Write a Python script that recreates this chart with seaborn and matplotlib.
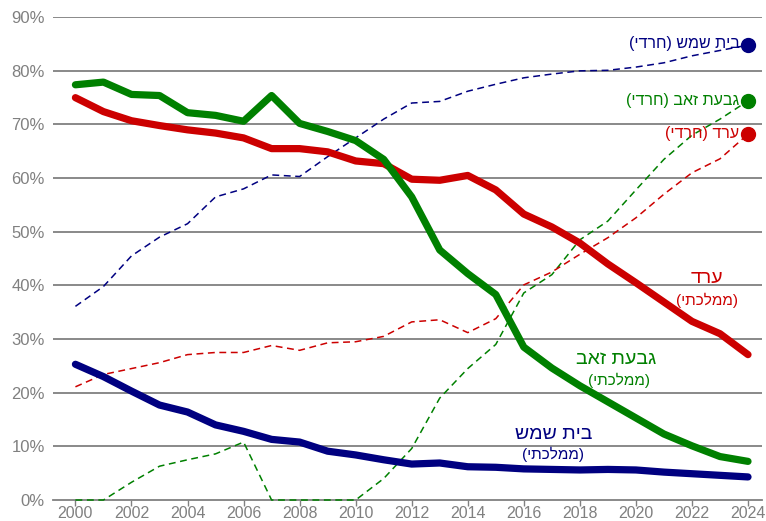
import numpy as np
import pandas as pd
import matplotlib
matplotlib.use("Agg")
import matplotlib.pyplot as plt
import seaborn as sns

years = list(range(2000, 2025))

arad_state = [75.0, 72.4, 70.7, 69.8, 69.0, 68.4, 67.5, 65.5, 65.5, 64.9, 63.2, 62.7,
              59.8, 59.6, 60.5, 57.8, 53.3, 50.9, 47.9, 44.0, 40.5, 36.9, 33.3, 31.0, 27.1]
gz_state = [77.4, 77.9, 75.6, 75.4, 72.2, 71.7, 70.6, 75.4, 70.2, 68.7, 67.0, 63.5,
            56.5, 46.6, 42.2, 38.3, 28.5, 24.6, 21.3, 18.3, 15.3, 12.3, 10.1, 8.1, 7.2]
bs_state = [25.3, 23.0, 20.3, 17.7, 16.4, 14.0, 12.8, 11.3, 10.8, 9.1, 8.4, 7.5,
            6.7, 6.9, 6.2, 6.1, 5.8, 5.7, 5.6, 5.7, 5.6, 5.2, 4.9, 4.6, 4.3]
arad_haredi = [21.1, 23.4, 24.5, 25.6, 27.1, 27.5, 27.5, 28.8, 27.9, 29.3, 29.5, 30.5,
               33.2, 33.6, 31.2, 33.8, 40.1, 42.5, 45.8, 48.9, 52.6, 57.0, 61.0, 63.6, 68.2]
gz_haredi = [0.0, 0.0, 3.3, 6.3, 7.5, 8.6, 10.8, 0.0, 0.0, 0.0, 0.0, 4.0,
             9.6, 19.0, 24.5, 29.0, 38.6, 42.0, 48.5, 52.0, 57.8, 63.5, 68.0, 71.0, 74.4]
bs_haredi = [36.1, 39.8, 45.5, 49.0, 51.5, 56.5, 58.0, 60.6, 60.3, 64.0, 67.5, 71.0,
             74.0, 74.3, 76.2, 77.5, 78.7, 79.4, 80.0, 80.1, 80.7, 81.5, 82.8, 83.8, 84.8]

yticks = [0, 10, 20, 30, 40, 50, 60, 70, 80, 90]
ytick_labels = ["0%", "10%", "20%", "30%", "40%", "50%", "60%", "70%", "80%", "90%"]
xticks = list(range(2000, 2025, 2))

lbl_bs_h = "בית שמש (חרדי)"
lbl_gz_h = "גבעת זאב (חרדי)"
lbl_arad_h = "ערד (חרדי)"
lbl_arad = "ערד"
lbl_gz = "גבעת זאב"
lbl_bs = "בית שמש"
lbl_state = "(ממלכתי)"

RED = "#CC0000"
GREEN = "#008000"
NAVY = "#000080"
GRAY = "#808080"


def rtl(s):
    # visual order for left-to-right renderer
    return s[::-1].translate(str.maketrans("()", ")("))


sns.set_theme(style="white")
plt.rcParams['font.family'] = ['Liberation Sans', 'DejaVu Sans']

fig = plt.figure(figsize=(7.66, 5.21), dpi=100)
ax = fig.add_axes([0.0692, 0.0403, 0.9256, 0.9267])

for y in yticks[1:]:
    ax.axhline(y, color=GRAY, lw=1.3, zorder=0)

dash = (4.5, 3.0)
series = [
    (bs_haredi, NAVY, 1.1, dash),
    (gz_haredi, GREEN, 1.1, dash),
    (arad_haredi, RED, 1.1, dash),
    (arad_state, RED, 5.2, None),
    (gz_state, GREEN, 5.2, None),
    (bs_state, NAVY, 5.2, None),
]
for vals, col, lw, dsh in series:
    d = pd.DataFrame({"year": years, "v": vals})
    sns.lineplot(data=d, x="year", y="v", ax=ax, color=col, lw=lw)
    l = ax.lines[-1]
    if dsh is not None:
        l.set_dashes(dsh)
    l.set_solid_joinstyle("round")
    l.set_zorder(3)
    l.set_clip_on(False)

for vals, col in [(bs_haredi, NAVY), (gz_haredi, GREEN), (arad_haredi, RED)]:
    ax.plot([years[-1]], [vals[-1]], 'o', color=col, ms=10, zorder=5, clip_on=False)

ax.text(2023.7, bs_haredi[-1] + 0.3, rtl(lbl_bs_h), color=NAVY, fontsize=11.5, ha="right", va="center")
ax.text(2023.7, gz_haredi[-1] + 0.1, rtl(lbl_gz_h), color=GREEN, fontsize=11.5, ha="right", va="center")
ax.text(2023.7, arad_haredi[-1] + 0.2, rtl(lbl_arad_h), color=RED, fontsize=11.5, ha="right", va="center")

ax.text(2022.55, 41.2, rtl(lbl_arad), color=RED, fontsize=14, ha="center", va="center")
ax.text(2022.55, 37.3, rtl(lbl_state), color=RED, fontsize=11, ha="center", va="center")
ax.text(2019.3, 26.2, rtl(lbl_gz), color=GREEN, fontsize=14, ha="center", va="center")
ax.text(2019.4, 22.3, rtl(lbl_state), color=GREEN, fontsize=11, ha="center", va="center")
ax.text(2017.05, 12.3, rtl(lbl_bs), color=NAVY, fontsize=14, ha="center", va="center")
ax.text(2017.05, 8.5, rtl(lbl_state), color=NAVY, fontsize=11, ha="center", va="center")

ax.set_xlim(1999.2, 2024.5)
ax.set_ylim(0, 90)
ax.set_yticks(yticks)
ax.set_yticklabels(ytick_labels)
ax.set_xticks(xticks)
ax.set_xticklabels([str(x) for x in xticks])
ax.set_xlabel("")
ax.set_ylabel("")
ax.tick_params(axis="y", length=0, labelsize=12, labelcolor=GRAY, pad=6)
ax.tick_params(axis="x", length=4, width=1, color=GRAY, labelsize=11.5, labelcolor=GRAY, pad=0.5, direction="out", bottom=True)
for s in ["top", "right", "left"]:
    ax.spines[s].set_visible(False)
ax.spines["bottom"].set_color(GRAY)
ax.spines["bottom"].set_linewidth(1.3)
ax.spines["bottom"].set_zorder(1)
ax.grid(False)

fig.savefig("out.png", dpi=100)
